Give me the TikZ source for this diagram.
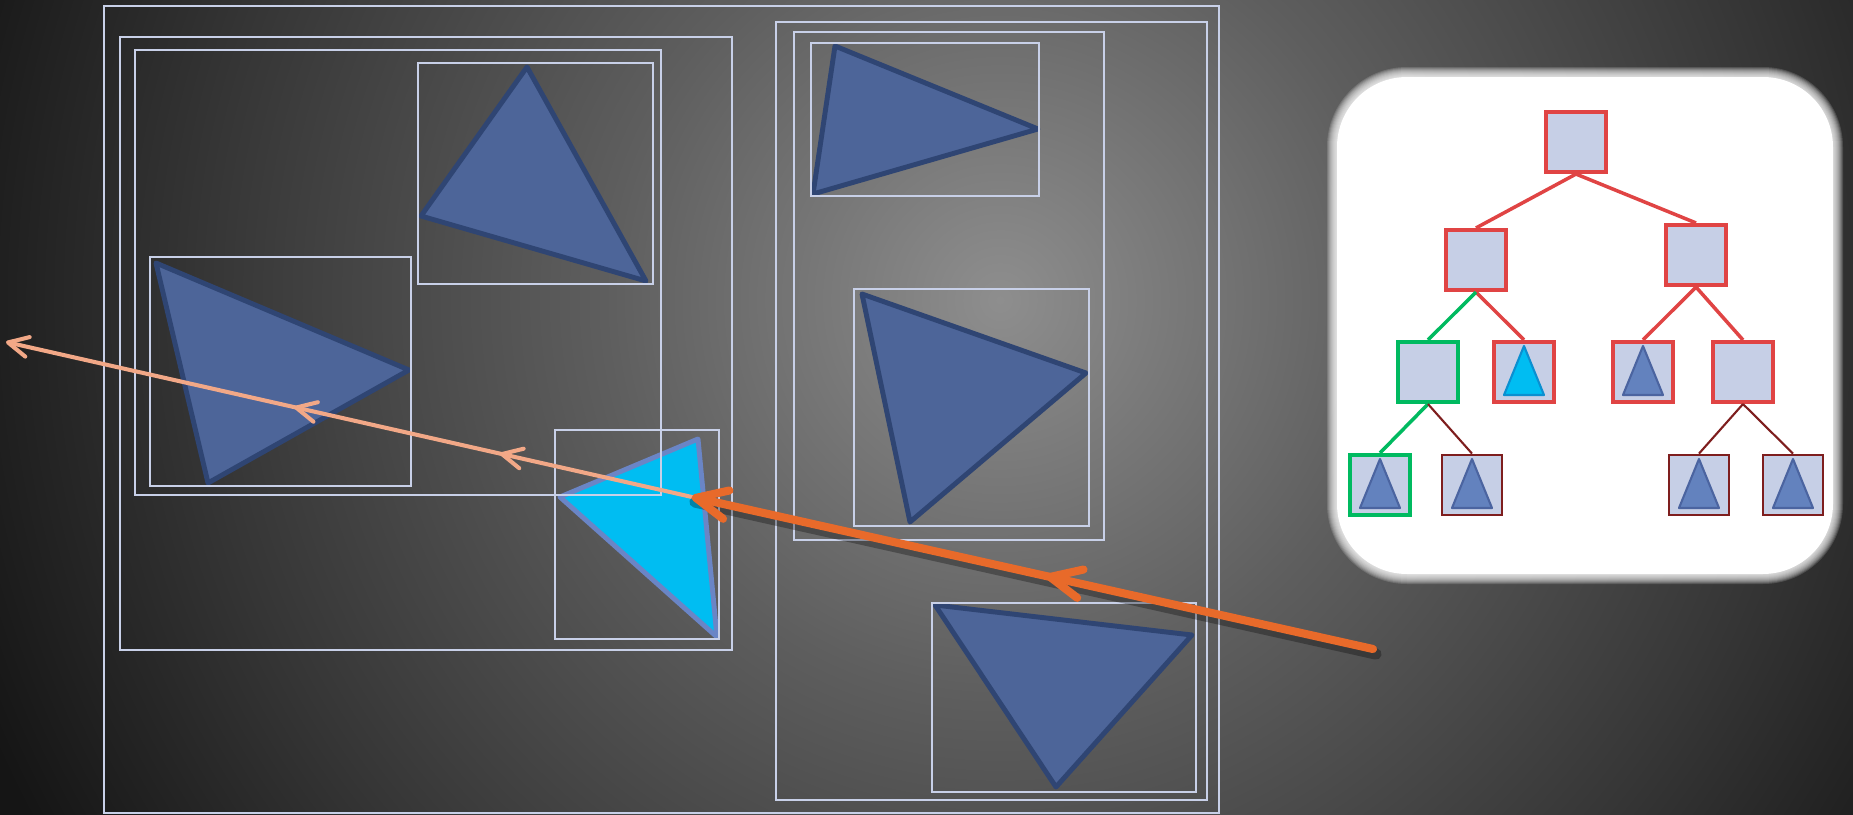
\documentclass[tikz,border=0pt]{standalone}
\usepackage{xcolor}
\usepackage{tikz}
\usetikzlibrary{arrows.meta, positioning, decorations.markings}

\definecolor{bgLight}{HTML}{8E8E8E}
\definecolor{bgMid}{HTML}{5E5E5E}
\definecolor{bgDim}{HTML}{363636}
\definecolor{bgDark}{HTML}{151515}
\definecolor{boxline}{HTML}{C8D0E8}
\definecolor{triFill}{HTML}{4D6599}
\definecolor{triLine}{HTML}{2F4573}
\definecolor{hitFill}{HTML}{00BDF2}
\definecolor{hitLine}{HTML}{6A85C6}
\definecolor{rayOrange}{HTML}{E86A2A}
\definecolor{raySalmon}{HTML}{F2A887}
\definecolor{nodeFill}{HTML}{C6CFE6}
\definecolor{treeRed}{HTML}{E04444}
\definecolor{treeGreen}{HTML}{00BA60}
\definecolor{treeDark}{HTML}{7E1E1E}
\definecolor{leafFill}{HTML}{6382BE}
\definecolor{leafLine}{HTML}{4B64A0}
\definecolor{leafHitLine}{HTML}{0B8FD0}

\pgfdeclareradialshading{bgglow}{\pgfpoint{0bp}{0bp}}{color(0bp)=(bgLight); color(9bp)=(bgMid); color(18bp)=(bgDim); color(25bp)=(bgDark); color(50bp)=(bgDark)}

\begin{document}
\begin{tikzpicture}[
    x=0.01cm, y=-0.01cm,
    bvbox/.style={draw=boxline, line width=0.6pt},
    tri/.style={fill=triFill, draw=triLine, line width=1.4pt, line join=round},
    hittri/.style={fill=hitFill, draw=hitLine, line width=1.4pt, line join=round},
    tnode/.style={rectangle, fill=nodeFill, draw=treeRed, line width=1.15pt,
                  minimum size=0.6cm, inner sep=0pt},
    gnode/.style={tnode, draw=treeGreen},
    dnode/.style={tnode, draw=treeDark, line width=0.8pt},
    redge/.style={draw=treeRed, line width=1pt},
    gedge/.style={draw=treeGreen, line width=1pt},
    dedge/.style={draw=treeDark, line width=0.6pt},
    leaf/.style={fill=leafFill, draw=leafLine, line width=0.6pt, line join=round},
    leafhit/.style={fill=hitFill, draw=leafHitLine, line width=0.6pt, line join=round},
    ray/.style={rayOrange, line width=2.3pt, line cap=round,
                -{Straight Barb[length=3.1mm, width=2.9mm, round]}},
    sray/.style={raySalmon, line width=1.15pt, line cap=round,
                 -{Straight Barb[length=2mm, width=2mm, round]}},
  ]
    % background
    \useasboundingbox (0,0) rectangle (1853,815);
    \begin{scope}
      \clip (0,0) rectangle (1853,815);
      \fill[bgDark] (0,0) rectangle (1853,815);
      \shade[shading=bgglow] (1000,300) circle (1100);
    \end{scope}

    % scene triangles
    \draw[tri] (527,67) -- (421,216) -- (646,281) -- cycle;
    \draw[tri] (156,263) -- (409,370) -- (208,483) -- cycle;
    \draw[hittri] (560,497) -- (698,439) -- (717,637) -- cycle;
    \draw[tri] (835,46) -- (1038,129) -- (813,194) -- cycle;
    \draw[tri] (862,294) -- (1086,373) -- (910,522) -- cycle;
    \draw[tri] (935,605) -- (1192,635) -- (1056,787) -- cycle;

    % bounding volumes
    \foreach \xa/\ya/\xb/\yb in {104/6/1219/813, 120/37/732/650, 135/50/661/495,
        418/63/653/284, 150/257/411/486, 555/430/719/639, 776/22/1207/800,
        794/32/1104/540, 811/43/1039/196, 854/289/1089/526, 932/603/1196/792}
      \draw[bvbox] (\xa,\ya) rectangle (\xb,\yb);

    % rays
    \coordinate (eye) at (1373,649);
    \coordinate (hit) at (692,497);
    \coordinate (far) at (6,342);
    \draw[sray, decoration={markings,
        mark=at position 0.28 with {\arrow{Straight Barb[length=2mm, width=2mm, round]}},
        mark=at position 0.58 with {\arrow{Straight Barb[length=2mm, width=2mm, round]}}},
        postaction={decorate}] (hit) -- (far);
    \draw[black, opacity=0.3, line width=3.2pt, line cap=round,
          transform canvas={xshift=0.3mm, yshift=-0.5mm}] (eye) -- (hit);
    \draw[ray, decoration={markings,
        mark=at position 0.48 with {\arrow{Straight Barb[length=3.1mm, width=2.9mm, round]}}},
        postaction={decorate}] (eye) -- (hit);

    % tree panel, soft edge
    \foreach \g [evaluate=\g as \rc using 7+0.1*\g] in {1,...,10}
      \fill[white, opacity=0.15, rounded corners=\rc mm] (1337-\g,77-\g) rectangle (1833+\g,574+\g);
    \fill[white, rounded corners=7mm] (1337,77) rectangle (1833,574);

    \node[tnode] (r)   at (1576,142) {};
    \node[tnode] (a)   at (1476,260) {};
    \node[tnode] (b)   at (1696,255) {};
    \node[gnode] (aa)  at (1428,372) {};
    \node[tnode] (ab)  at (1524,372) {};
    \node[tnode] (ba)  at (1643,372) {};
    \node[tnode] (bb)  at (1743,372) {};
    \node[gnode] (aaa) at (1380,485) {};
    \node[dnode] (aab) at (1472,485) {};
    \node[dnode] (bba) at (1699,485) {};
    \node[dnode] (bbb) at (1793,485) {};

    \foreach \p/\c in {r/a, r/b, a/ab, b/ba, b/bb}
      \draw[redge] (\p.south) -- (\c.north);
    \foreach \p/\c in {a/aa, aa/aaa}
      \draw[gedge] (\p.south) -- (\c.north);
    \foreach \p/\c in {aa/aab, bb/bba, bb/bbb}
      \draw[dedge] (\p.south) -- (\c.north);

    \foreach \n in {ba, aaa, aab, bba, bbb}
      \draw[leaf] ([shift={(0,-26)}]\n.center) -- ([shift={(-20,23)}]\n.center)
        -- ([shift={(20,23)}]\n.center) -- cycle;
    \draw[leafhit] ([shift={(0,-26)}]ab.center) -- ([shift={(-20,23)}]ab.center)
      -- ([shift={(20,23)}]ab.center) -- cycle;
\end{tikzpicture}
\end{document}
